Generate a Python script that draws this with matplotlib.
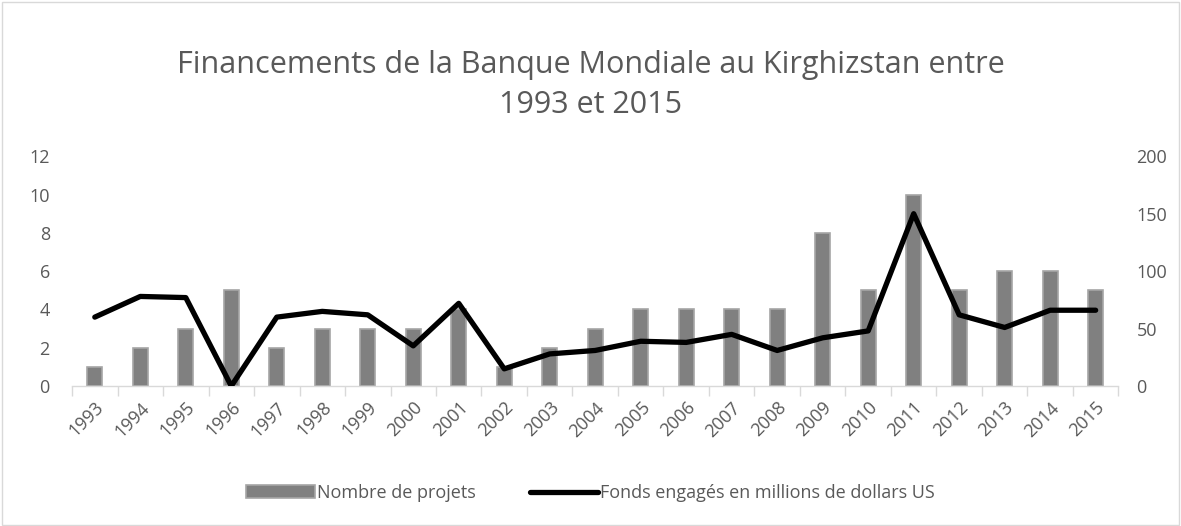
import numpy as np
import matplotlib.pyplot as plt
from matplotlib.patches import Rectangle

plt.rcParams['font.family'] = ['Open Sans', 'DejaVu Sans']

years = [str(y) for y in range(1993, 2016)]
nb_projets = [1, 2, 3, 5, 2, 3, 3, 3, 4, 1, 2, 3, 4, 4, 4, 4, 8, 5, 10, 5, 6, 6, 5]
fonds = [60, 78, 77, 0, 60, 65, 62, 35, 72, 15, 28, 31, 39, 38, 45, 31, 42, 48, 150, 62, 51, 66, 66]

grey_txt = "#595959"
x = np.arange(len(years))

fig = plt.figure(figsize=(11.81, 5.26), dpi=100)
ax = fig.add_axes([0.061, 0.266, 0.886, 0.437])
ax2 = ax.twinx()

bars = ax.bar(x, nb_projets, width=0.33, color="#808080", edgecolor="#A6A6A6",
              linewidth=1.2, label="Nombre de projets", zorder=2)
line, = ax2.plot(x, fonds, color="black", lw=3.8, solid_joinstyle="round",
                 solid_capstyle="round", label="Fonds engagés en millions de dollars US", zorder=3)

ax.set_xlim(-0.5, len(years) - 0.5)
ax.set_ylim(0, 12)
ax.set_yticks(range(0, 13, 2))
ax2.set_ylim(0, 200)
ax2.set_yticks(range(0, 201, 50))

ax.set_xticks(x)
ax.set_xticklabels(years, rotation=45, ha="right", rotation_mode="anchor")
ax.set_xticks(np.arange(-0.5, len(years)), minor=True)
ax.tick_params(axis="x", which="major", length=0, pad=9, labelsize=13, labelcolor=grey_txt)
ax.tick_params(axis="x", which="minor", length=7, color="#D9D9D9", width=1)
ax.tick_params(axis="y", length=0, pad=16, labelsize=13, labelcolor=grey_txt)
ax2.tick_params(axis="y", length=0, pad=13, labelsize=13, labelcolor=grey_txt)

for a in (ax, ax2):
    for s in ("top", "left", "right"):
        a.spines[s].set_visible(False)
ax2.spines["bottom"].set_visible(False)
ax.spines["bottom"].set_color("#D9D9D9")
ax.spines["bottom"].set_linewidth(1)

fig.suptitle("Financements de la Banque Mondiale au Kirghizstan entre\n1993 et 2015",
             y=0.905, fontsize=22, color=grey_txt, linespacing=1.45)

fig.legend([bars, line], ["Nombre de projets", "Fonds engagés en millions de dollars US"],
           loc="center", bbox_to_anchor=(0.5, 0.063), ncol=2, frameon=False,
           fontsize=13, labelcolor=grey_txt, handlelength=3.8, handletextpad=0.1,
           columnspacing=3.0)

fig.add_artist(Rectangle((0.002, 0.002), 0.996, 0.994, transform=fig.transFigure,
                         fill=False, edgecolor="#D9D9D9", lw=1))

fig.savefig("out.png", dpi=100)
